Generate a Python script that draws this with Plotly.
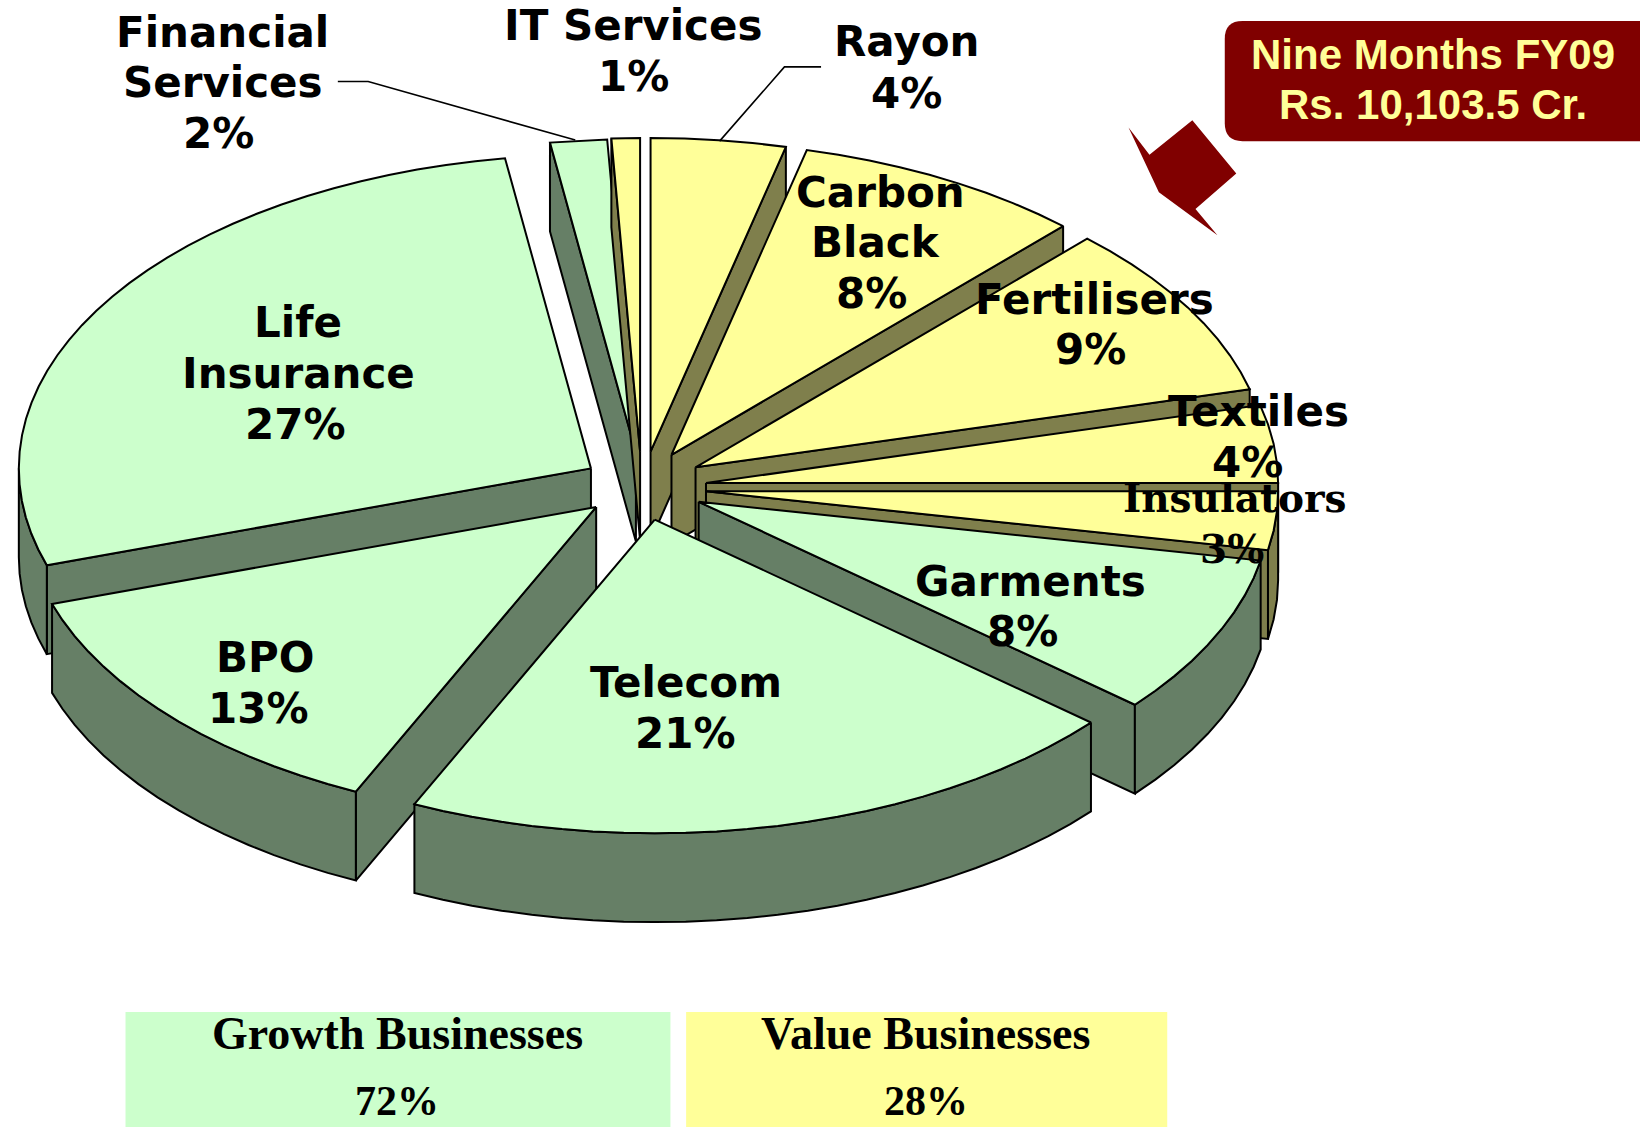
import math
import plotly.graph_objects as go

# ---- data (clockwise from 12 o'clock) ----
SLICES = ["Rayon", "Carbon Black", "Fertilisers", "Textiles", "Insulators", "Garments",
          "Telecom", "BPO", "Life Insurance", "Financial Services", "IT Services"]
SHARES = [3.8, 8.2, 9.0, 4.0, 3.0, 8.2, 20.7, 13.1, 27.6, 1.6, 0.8]
GROUPS = ["value", "value", "value", "value", "value", "growth",
          "growth", "growth", "growth", "growth", "value"]
# explosion: where each slice's tip sits, in reference coordinates
TIP_X = [622, 642, 665, 675, 675, 668, 626, 570, 565, 608, 612]
TIP_Y = [432, 435, 447, 462, 470, 480, 497, 485, 448, 433, 432]
PAINT_ORDER = [9, 10, 0, 1, 8, 2, 3, 4, 7, 5, 6]

LABELS = [
    ("Financial", 213, 31), ("Services", 213, 79), ("2%", 209, 128),
    ("IT Services", 606, 24), ("1%", 606, 73),
    ("Rayon", 867, 40), ("4%", 867, 89),
    ("Carbon", 842, 184), ("Black", 837, 232), ("8%", 833, 281),
    ("Fertilisers", 1046, 286), ("9%", 1043, 334),
    ("Textiles", 1203, 394), ("4%", 1193, 442),
    ("Garments", 985, 556), ("8%", 978, 604),
    ("Telecom", 656, 653), ("21%", 655, 702),
    ("BPO", 254, 629), ("13%", 247, 678),
    ("Life", 285, 308), ("Insurance", 285, 357), ("27%", 283, 406),
]
SERIF_LABELS = [("Insulators", 1181, 476), ("3%", 1178, 525)]
SUMMARY_HEAD = [("Growth Businesses", 380, 989), ("Value Businesses", 885, 989)]
SUMMARY_PCT = [("72%", 380, 1053), ("28%", 885, 1053)]
BADGE = [("Nine Months FY09", 1370, 52), ("Rs. 10,103.5 Cr.", 1370, 100)]

# ---- styling ----
RX, RY, DEPTH = 547, 300, 85
TOP = {"growth": "#CCFFCC", "value": "#FFFF99"}
SIDE = {"growth": "#667F66", "value": "#7F7F4C"}
MAROON = "#800000"
W, H = 1640, 1127
BOLD = "DejaVu Sans"
SERIF = "Liberation Serif"


def rim(tx, ty, deg):
    t = math.radians(deg)
    return tx + RX * math.sin(t), ty - RY * math.cos(t)


def arc(a, b, step=3.0):
    n = max(2, int(abs(b - a) / step) + 1)
    return [a + (b - a) * i / (n - 1) for i in range(n)]


def poly(pts, fill):
    return go.Scatter(x=[p[0] for p in pts] + [pts[0][0]], y=[p[1] for p in pts] + [pts[0][1]],
                      mode="lines", fill="toself", fillcolor=fill,
                      line=dict(color="black", width=2), hoverinfo="skip", showlegend=False)


fig = go.Figure()

# angular span of each slice from its share
starts, ends, acc = [], [], 0.0
for s in SHARES:
    starts.append(acc * 3.6)
    acc += s
    ends.append(acc * 3.6)

for i in PAINT_ORDER:
    tx, ty, a, b = TIP_X[i], TIP_Y[i], starts[i], ends[i]
    top, side = TOP[GROUPS[i]], SIDE[GROUPS[i]]
    # visible radial walls
    for deg, visible in ((a, math.sin(math.radians(a)) < -1e-6), (b, math.sin(math.radians(b)) > 1e-6)):
        if visible:
            x, y = rim(tx, ty, deg)
            fig.add_trace(poly([(tx, ty), (x, y), (x, y + DEPTH), (tx, ty + DEPTH)], side))
    # visible outer wall (the part of the rim facing the viewer)
    lo, hi = max(a, 90), min(b, 270)
    if hi > lo:
        rimpts = [rim(tx, ty, d) for d in arc(lo, hi)]
        fig.add_trace(poly(rimpts + [(x, y + DEPTH) for x, y in reversed(rimpts)], side))
    # top face
    fig.add_trace(poly([(tx, ty)] + [rim(tx, ty, d) for d in arc(a, b)], top))

# leader lines
for xs, ys in (([323, 352, 550], [78, 78, 134]), ([785, 750, 688], [64, 64, 135])):
    fig.add_trace(go.Scatter(x=xs, y=ys, mode="lines", line=dict(color="black", width=1.6),
                             hoverinfo="skip", showlegend=False))

shapes = [
    dict(type="rect", x0=120, x1=641, y0=968, y1=1078, fillcolor=TOP["growth"], line_width=0, layer="below"),
    dict(type="rect", x0=656, x1=1116, y0=968, y1=1078, fillcolor=TOP["value"], line_width=0, layer="below"),
    dict(type="path", fillcolor=MAROON, line_width=0, layer="below",
         path="M1188,20 L1568,20 L1568,135 L1188,135 Q1171,135 1171,118 L1171,37 Q1171,20 1188,20 Z"),
    dict(type="path", fillcolor=MAROON, line_width=0, layer="below",
         path="M1079,122 L1099,148 L1140,115 L1182,166 L1143,200 L1164,225 L1108,184 Z"),
]


def note(text, x, y, family, size, color="black", bold=True):
    fig.add_annotation(x=x, y=y, text=f"<b>{text}</b>" if bold else text, showarrow=False,
                       xanchor="center", yanchor="middle",
                       font=dict(family=family, size=size, color=color))


for t, x, y in LABELS:
    note(t, x, y, BOLD, 42)
for t, x, y in SERIF_LABELS:
    note(t, x, y, "DejaVu Serif", 39)
for t, x, y in SUMMARY_HEAD:
    note(t, x, y, SERIF, 46)
for t, x, y in SUMMARY_PCT:
    note(t, x, y, SERIF, 42)
for t, x, y in BADGE:
    note(t, x, y, "Liberation Sans", 42, color="#FFFF99")

fig.update_layout(
    width=W, height=H, margin=dict(l=0, r=0, t=0, b=0), autosize=False,
    paper_bgcolor="white", plot_bgcolor="white", showlegend=False, shapes=shapes,
    xaxis=dict(range=[0, 1568], visible=False, fixedrange=True),
    yaxis=dict(range=[1078, 0], visible=False, fixedrange=True),
)
fig.write_html("out.html", config={"displayModeBar": False},
               post_script="document.body.style.margin='0';document.documentElement.style.overflow='hidden';")
